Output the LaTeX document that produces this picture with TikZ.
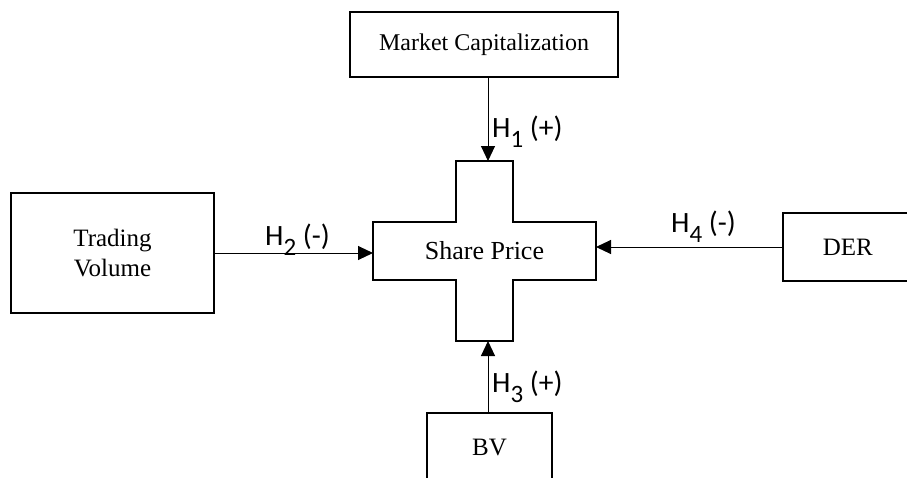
\documentclass[tikz,border=0pt]{standalone}
\usepackage{fontspec}
\setmainfont{Liberation Serif}
\newfontfamily\hfont{Carlito}
\usetikzlibrary{arrows.meta}
\tikzset{
  box/.style={draw, line width=1.8pt, inner sep=0pt, align=center, font=\fontsize{25}{30}\selectfont},
  conn/.style={line width=1pt, -{Triangle[length=15pt,width=14pt]}},
  hlab/.style={anchor=base west, inner sep=0pt, font=\hfont\fontsize{29.5}{30}\selectfont}
}
\newcommand{\hsub}[1]{\raisebox{-10pt}{\fontsize{25}{25}\selectfont #1}}
\begin{document}
\begin{tikzpicture}[x=1pt,y=-1pt]
\useasboundingbox (0,0) rectangle (907,477);
% boxes
\node[box, minimum width=268pt, minimum height=65pt, font=\fontsize{24}{28}\selectfont] (mc) at (484,44.5) {Market Capitalization};
\node[box, minimum width=203pt, minimum height=120pt] (tv) at (112.5,253) {Trading\\Volume};
\node[box, minimum width=130pt, minimum height=68pt, anchor=west] (der) at (782,247) {DER};
\node[box, minimum width=125pt, minimum height=70pt, anchor=north] (bv) at (489.5,412) {BV};
% cross
\draw[line width=1.6pt] (456,161) -- (513,161) -- (513,222) -- (596,222) -- (596,280) -- (513,280) -- (513,341) -- (456,341) -- (456,280) -- (373,280) -- (373,222) -- (456,222) -- cycle;
\node[inner sep=0pt, font=\fontsize{26}{30}\selectfont] (sp) at (484.5,251) {Share Price};
\coordinate (cT) at (488,161);
\coordinate (cB) at (488,341);
\coordinate (cL) at (373,253);
\coordinate (cR) at (596,247);
% connectors
\draw[conn] (cT |- mc.south) -- (cT);
\draw[conn] (cB |- bv.north) -- (cB);
\draw[conn] (tv.east) -- (cL);
\draw[conn] (der.west) -- (cR);
% labels
\node[hlab] (h1) at (492,137) {H\hsub{1} (+)};
\node[hlab] (h2) at (265,245) {H\hsub{2} (-)};
\node[hlab] (h3) at (492,392) {H\hsub{3} (+)};
\node[hlab] (h4) at (671,232) {H\hsub{4} (-)};
\end{tikzpicture}
\end{document}
